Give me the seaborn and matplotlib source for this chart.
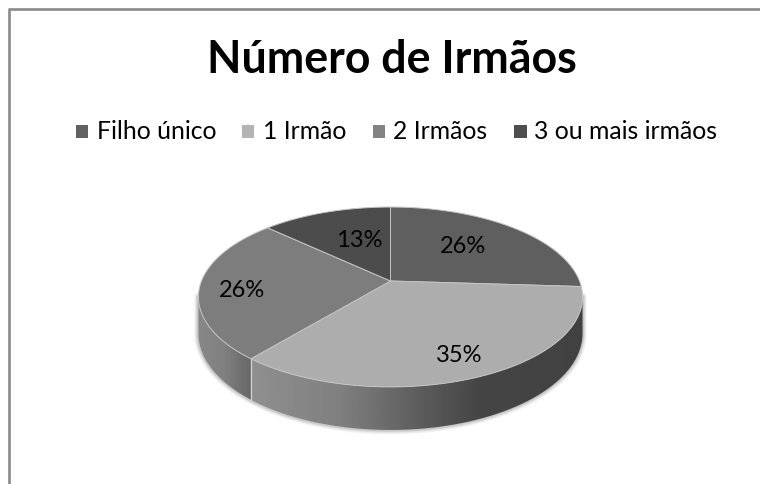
import numpy as np
import matplotlib
matplotlib.use("Agg")
import matplotlib.pyplot as plt
from matplotlib.patches import PathPatch, Rectangle
from matplotlib.path import Path
import seaborn as sns

labels = ["Filho único", "1 Irmão", "2 Irmãos", "3 ou mais irmãos"]
values = [26, 35, 26, 13]
pct_text = ["26%", "35%", "26%", "13%"]
colors = ["#5f5f5f", "#adadad", "#7d7d7d", "#4c4c4c"]
legend_colors = ["#626262", "#b4b4b4", "#838383", "#4e4e4e"]
title = "Número de Irmãos"

sns.set_theme(style="white")
plt.rcParams['font.family'] = ['Lato', 'DejaVu Sans']
W, H = 760, 484
fig = plt.figure(figsize=(W/100, H/100), dpi=100, facecolor="white")
ax = fig.add_axes([0, 0, 1, 1])
ax.axis("off")
# chart frame: only its top and left edges are visible
ax.plot([8.5, W], [8.5, 8.5], color="#8a8a8a", lw=1.9, solid_capstyle="butt", zorder=1)
ax.plot([8.5, 8.5], [7.5, H], color="#8a8a8a", lw=1.9, solid_capstyle="butt", zorder=1)

# perspective projection of the pie's unit circle
x0, y0, A, B, k, D = 390.5, 281, 189, 87.1, 0.1776, 35.4
def pt(t, drop=0.0):
    den = 1 + k*np.cos(t)
    return x0 + A*np.sin(t)/den, y0 - B*np.cos(t)/den + drop*D/den

cum = np.cumsum([0] + values) / sum(values) * 2*np.pi
vis0, vis1 = np.pi - np.arccos(k), np.pi + np.arccos(k)

# soft shadow around the outer rim
tr = np.linspace(vis0, vis1, 200)
rx, ry = pt(tr, 1.0)
xs0, ys0 = pt(vis0); xs1, ys1 = pt(vis1)
ox = np.r_[xs0, rx, xs1]
oy = np.r_[ys0, ry, ys1]
for w, a in [(9, .05), (7, .07), (5, .10), (3, .14)]:
    ax.plot(ox, oy, color="#555555", alpha=a, lw=w*0.72, zorder=1.5)

# side walls with horizontal gradients, one per visible slice
def wall(t0, t1, xstops, gstops):
    t = np.linspace(t0, t1, 120)
    xa, ya = pt(t)
    xb, yb = pt(t, 1.0)
    v = np.r_[np.c_[xa, ya], np.c_[xb, yb][::-1]]
    p = Path(np.r_[v, v[:1]])
    xl, xr = min(xa.min(), xb.min()), max(xa.max(), xb.max())
    yt, yb2 = min(ya.min(), yb.min()), max(ya.max(), yb.max())
    g = np.interp(np.linspace(xl, xr, 300), xstops, gstops)
    im = ax.imshow(g[None, :], extent=(xl, xr, yb2, yt), cmap="gray",
                   vmin=0, vmax=1, aspect="auto", zorder=2)
    im.set_clip_path(PathPatch(p, transform=ax.transData))
    return xa, ya, xb, yb

wall(vis0, cum[2], [252, 340, 440, 480, 582], [.56, .50, .33, .27, .26])
wall(cum[2], vis1, [199, 225, 252], [.53, .50, .40])

# divider on the wall
xa, ya = pt(cum[2]); xb, yb = pt(cum[2], 1.0)
ax.plot([xa, xb], [ya, yb], color="#d0d0d0", lw=0.9, zorder=3)

# top faces
for i, c in enumerate(colors):
    t = np.linspace(cum[i], cum[i+1], 100)
    x, y = pt(t)
    ax.fill(np.r_[x0, x], np.r_[y0, y], color=c, ec="#c4c4c4", lw=0.7, zorder=3)

lab_pos = [(463, 253), (459, 362), (242.5, 297), (359, 247)]
for (x, y), s in zip(lab_pos, pct_text):
    ax.text(x, y, s, ha="center", va="baseline", fontsize=17, color="black", zorder=5)

ax.text(392, 73, title, ha="center", va="baseline", fontsize=32.2, fontweight="bold", color="black")

leg_sq = [75.5, 241.5, 372.5, 514]
leg_txt = [97, 263, 393, 534]
for xs, xt, s, c in zip(leg_sq, leg_txt, labels, legend_colors):
    ax.add_patch(Rectangle((xs, 125), 12.5, 12.5, color=c, lw=0))
    ax.text(xt, 139, s, ha="left", va="baseline", fontsize=17.8, color="black")

ax.set_xlim(0, W); ax.set_ylim(H, 0)
fig.savefig("out.png", dpi=100)
